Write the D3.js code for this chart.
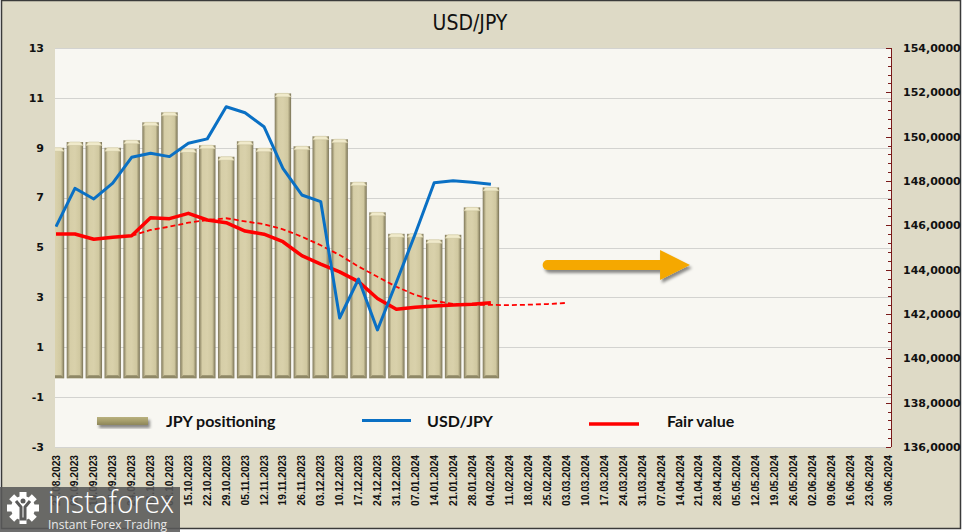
<!DOCTYPE html>
<html><head><meta charset="utf-8">
<script src="https://cdn.jsdelivr.net/npm/d3@7"></script>
<style>html,body{margin:0;padding:0;background:#fff;}svg{display:block;}</style>
</head><body><svg id="c" width="964" height="532"></svg>
<script>
const dates = ["27.08.2023","03.09.2023","10.09.2023","17.09.2023","24.09.2023","01.10.2023","08.10.2023","15.10.2023","22.10.2023","29.10.2023","05.11.2023","12.11.2023","19.11.2023","26.11.2023","03.12.2023","10.12.2023","17.12.2023","24.12.2023","31.12.2023","07.01.2024","14.01.2024","21.01.2024","28.01.2024","04.02.2024","11.02.2024","18.02.2024","25.02.2024","03.03.2024","10.03.2024","17.03.2024","24.03.2024","31.03.2024","07.04.2024","14.04.2024","21.04.2024","28.04.2024","05.05.2024","12.05.2024","19.05.2024","26.05.2024","02.06.2024","09.06.2024","16.06.2024","23.06.2024","30.06.2024"];
const jpyPositioning = [9.0, 9.23, 9.23, 9.0, 9.3, 10.02, 10.42, 8.95, 9.1, 8.64, 9.26, 8.98, 11.18, 9.06, 9.46, 9.34, 7.62, 6.41, 5.55, 5.55, 5.31, 5.51, 6.61, 7.41];
const usdJpy = [145.94, 147.67, 147.19, 147.9, 149.07, 149.25, 149.1, 149.7, 149.9, 151.35, 151.08, 150.45, 148.57, 147.37, 147.07, 141.82, 143.58, 141.28, 143.43, 145.62, 147.92, 148.01, 147.94, 147.85];
const fairValue = [145.61, 145.61, 145.37, 145.46, 145.53, 146.34, 146.3, 146.54, 146.24, 146.12, 145.74, 145.6, 145.26, 144.63, 144.25, 143.9, 143.46, 142.7, 142.21, 142.3, 142.36, 142.41, 142.44, 142.51];
const fairValueTrend = [null, null, null, null, 145.53, 145.79, 145.94, 146.12, 146.24, 146.32, 146.18, 146.05, 145.82, 145.49, 145.1, 144.66, 144.14, 143.68, 143.23, 142.86, 142.6, 142.45, 142.42, 142.41, 142.4, 142.42, 142.45, 142.5];
const leftTicks = [13, 11, 9, 7, 5, 3, 1, -1, -3];
const rightTicks = [154, 152, 150, 148, 146, 144, 142, 140, 138, 136];
const title = "USD/JPY";
const legendNames = ["JPY positioning", "USD/JPY", "Fair value"];

const svg = d3.select("#c");
const W = 964, H = 532;
const plot = {l: 55, r: 891, t: 48, b: 447};

const x = d3.scalePoint().domain(dates).range([56, 888]);
const yL = d3.scaleLinear().domain([-3, 13]).range([plot.b, plot.t]);
const yR = d3.scaleLinear().domain([136, 154]).range([plot.b, plot.t]);

const defs = svg.append("defs");
const bg = defs.append("linearGradient").attr("id","barGrad").attr("x1","0").attr("x2","1").attr("y1","0").attr("y2","0");
[[0,"#7d7659"],[0.1,"#aba37f"],[0.2,"#d6cea7"],[0.5,"#d9d1ab"],[0.8,"#d0c8a0"],[0.9,"#a69e7a"],[1,"#767054"]].forEach(s=>bg.append("stop").attr("offset",s[0]).attr("stop-color",s[1]));
const lg = defs.append("linearGradient").attr("id","legGrad").attr("x1","0").attr("x2","0").attr("y1","0").attr("y2","1");
[[0,"#b9b17f"],[0.5,"#a69e6b"],[1,"#8d865a"]].forEach(s=>lg.append("stop").attr("offset",s[0]).attr("stop-color",s[1]));
defs.append("clipPath").attr("id","plotClip").append("rect").attr("x",plot.l).attr("y",plot.t).attr("width",plot.r-plot.l).attr("height",plot.b-plot.t);
const sh = defs.append("filter").attr("id","shadow").attr("x","-20%").attr("y","-50%").attr("width","140%").attr("height","200%");
sh.append("feDropShadow").attr("dx",2).attr("dy",3).attr("stdDeviation",1.6).attr("flood-color","#000").attr("flood-opacity",0.45);

// chart background
svg.append("rect").attr("x",0).attr("y",0).attr("width",W).attr("height",H).attr("fill","#ffffff");
svg.append("rect").attr("x",1.5).attr("y",0.5).attr("width",959).attr("height",528).attr("fill","#dedac6").attr("stroke","#3a3a3a").attr("stroke-width",1.5);

// plot area
svg.append("rect").attr("x",plot.l).attr("y",plot.t).attr("width",plot.r-plot.l).attr("height",plot.b-plot.t).attr("fill","#f8f7f2");

// gridlines
svg.append("g").selectAll("line").data(leftTicks).join("line")
  .attr("x1",plot.l).attr("x2",plot.r).attr("y1",d=>Math.round(yL(d))+0.5).attr("y2",d=>Math.round(yL(d))+0.5)
  .attr("stroke","#d3d3d0").attr("stroke-width",1);

// title
svg.append("text").attr("x",470).attr("y",30).attr("text-anchor","middle")
  .attr("font-family","'DejaVu Sans Condensed','DejaVu Sans',sans-serif").attr("font-stretch","condensed").attr("font-size",21).attr("fill","#111").text(title);

// left axis labels
svg.append("g").selectAll("text").data(leftTicks).join("text")
  .attr("x",44).attr("y",d=>yL(d)).attr("dy","0.35em").attr("text-anchor","end")
  .attr("font-family","'DejaVu Sans',sans-serif").attr("font-weight","bold").attr("font-size",11).attr("fill","#111")
  .text(d=>d);

// right axis
const ra = svg.append("g");
ra.append("line").attr("x1",plot.r+0.5).attr("x2",plot.r+0.5).attr("y1",plot.t).attr("y2",plot.b).attr("stroke","#7a1a1a").attr("stroke-width",1);
const minor = d3.range(136, 154.001, 0.4);
ra.selectAll("line.mi").data(minor).join("line").attr("class","mi")
  .attr("x1",plot.r-3).attr("x2",plot.r).attr("y1",d=>Math.round(yR(d))+0.5).attr("y2",d=>Math.round(yR(d))+0.5)
  .attr("stroke","#7a1a1a").attr("stroke-width",1);
ra.selectAll("line.ma").data(rightTicks).join("line").attr("class","ma")
  .attr("x1",plot.r-5).attr("x2",plot.r).attr("y1",d=>Math.round(yR(d))+0.5).attr("y2",d=>Math.round(yR(d))+0.5)
  .attr("stroke","#7a1a1a").attr("stroke-width",1);
ra.selectAll("text").data(rightTicks).join("text")
  .attr("x",903).attr("y",d=>yR(d)).attr("dy","0.35em")
  .attr("font-family","'DejaVu Sans',sans-serif").attr("font-weight","bold").attr("font-size",11).attr("fill","#111")
  .text(d=>d.toFixed(4).replace(".",","));

// x labels
svg.append("g").selectAll("text").data(dates).join("text")
  .attr("transform",d=>`translate(${x(d)+3.5},455) rotate(-90)`)
  .attr("text-anchor","end")
  .attr("font-family","'Liberation Sans',Arial,sans-serif").attr("font-weight","bold").attr("font-size",10.2).attr("fill","#111")
  .text(d=>d);

// bars
const bw = 16.4, bevel = 6;
const bars = svg.append("g").attr("clip-path","url(#plotClip)");
const barData = jpyPositioning.map((v,i)=>({d:dates[i], v}));
bars.selectAll("rect.bar").data(barData).join("rect").attr("class","bar")
  .attr("x",d=>x(d.d)-bw/2).attr("width",bw)
  .attr("y",d=>yL(d.v)).attr("height",d=>yL(0)+bevel-yL(d.v))
  .attr("fill","url(#barGrad)");
bars.selectAll("path.cap").data(barData).join("path").attr("class","cap")
  .attr("d",d=>{const x0=x(d.d)-bw/2,x1=x0+bw,t=yL(d.v);return `M${x0},${t+3.5}L${x0+3},${t}L${x1-3},${t}L${x1},${t+3.5}Z`;})
  .attr("fill","#f0eacb").attr("stroke","#c9c19a").attr("stroke-width",0.5);
bars.selectAll("path.base").data(barData).join("path").attr("class","base")
  .attr("d",d=>{const x0=x(d.d)-bw/2,x1=x0+bw,b=yL(0)+bevel;return `M${x0},${b}L${x0+3},${b-3}L${x1-3},${b-3}L${x1},${b}Z`;})
  .attr("fill","#8f8866");

// lines
const lineR = d3.line().defined(d=>d.v!=null).x(d=>x(d.d)).y(d=>yR(d.v));
const lines = svg.append("g").attr("clip-path","url(#plotClip)");
lines.append("path").datum(fairValueTrend.map((v,i)=>({d:dates[i],v})))
  .attr("d",lineR).attr("fill","none").attr("stroke","#ff0000").attr("stroke-width",1.8).attr("stroke-dasharray","5,3");
lines.append("path").datum(fairValue.map((v,i)=>({d:dates[i],v})))
  .attr("d",lineR).attr("fill","none").attr("stroke","#ff0000").attr("stroke-width",3.5).attr("stroke-linejoin","round");
lines.append("path").datum(usdJpy.map((v,i)=>({d:dates[i],v})))
  .attr("d",lineR).attr("fill","none").attr("stroke","#0a70c4").attr("stroke-width",3).attr("stroke-linejoin","round");

// arrow annotation
const ay = 265;
const ar = svg.append("g").attr("filter","url(#shadow)");
ar.append("line").attr("x1",x(dates[26])).attr("x2",x(dates[32])).attr("y1",ay).attr("y2",ay)
  .attr("stroke","#f5a800").attr("stroke-width",10).attr("stroke-linecap","round");
ar.append("path").attr("d",`M${x(dates[32])-1},${ay-15}L${x(dates[33])+10},${ay}L${x(dates[32])-1},${ay+15}Z`).attr("fill","#f5a800");

// legend
const lgY = 421;
svg.append("rect").attr("x",97).attr("y",lgY-4).attr("width",51).attr("height",8).attr("fill","url(#legGrad)").attr("filter","url(#shadow)");
svg.append("line").attr("x1",362).attr("x2",411).attr("y1",lgY-0.5).attr("y2",lgY-0.5).attr("stroke","#0a70c4").attr("stroke-width",3);
svg.append("line").attr("x1",589).attr("x2",639).attr("y1",lgY+3).attr("y2",lgY+3).attr("stroke","#ff0000").attr("stroke-width",3.5);
svg.append("g").selectAll("text").data(legendNames).join("text")
  .attr("x",(d,i)=>[166,427,667][i]).attr("y",lgY).attr("dy","0.35em")
  .attr("font-family","Lato,'Open Sans',sans-serif").attr("font-weight","bold").attr("font-size",16).attr("fill","#111")
  .text(d=>d);

// logo
const logo = svg.append("g");
logo.append("rect").attr("x",0).attr("y",487).attr("width",180).attr("height",45).attr("fill","#595959").attr("fill-opacity",0.88);
const gx = 23, gy = 508;
const gear = logo.append("g").attr("fill","#ffffff");
d3.range(8).forEach(k=>{
  gear.append("rect").attr("x",gx-3.5).attr("y",gy-16).attr("width",7).attr("height",7)
    .attr("transform",`rotate(${k*45},${gx},${gy})`);
});
gear.append("circle").attr("cx",gx).attr("cy",gy).attr("r",12);
logo.append("path").attr("d",`M${gx-7},${gy-7}L${gx-2},${gy-1}L${gx-2},${gy+11}L${gx+2},${gy+11}L${gx+2},${gy-1}L${gx+7},${gy-7}`)
  .attr("fill","none").attr("stroke","#595959").attr("stroke-width",3);
logo.append("circle").attr("cx",gx).attr("cy",gy-7).attr("r",2.5).attr("fill","#595959");
logo.append("text").attr("x",48).attr("y",513).attr("textLength",126).attr("lengthAdjust","spacingAndGlyphs")
  .attr("font-family","'Open Sans',sans-serif").attr("font-weight",300).attr("font-size",31).attr("fill","#ffffff").text("instaforex");
logo.append("text").attr("x",48).attr("y",529).attr("font-family","'Open Sans',sans-serif").attr("font-size",12).attr("fill","#e8e8e8").text("Instant Forex Trading");
</script></body></html>
